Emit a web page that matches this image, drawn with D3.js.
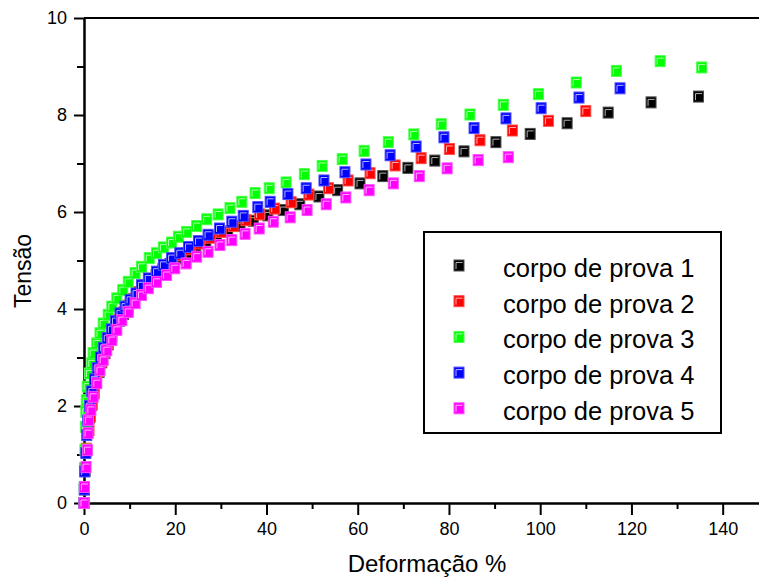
<!DOCTYPE html>
<html><head><meta charset="utf-8">
<script src="https://cdn.jsdelivr.net/npm/d3@7"></script>
<style>
html,body{margin:0;padding:0;background:#fff;}
svg{display:block;}
text{font-family:"Liberation Sans",Arial,sans-serif;fill:#000;}
</style></head>
<body>
<svg id="chart" width="759" height="578"></svg>
<script>
// ---- data ----
const categories = ["corpo de prova 1","corpo de prova 2","corpo de prova 3","corpo de prova 4","corpo de prova 5"];
const colors = ["#000000","#ff0000","#00ff00","#0000ff","#ff00ff"];

const s1x = [0,0.1,0.25,0.5,0.8,1.2,1.7,2.2,2.7,3.3,3.9,4.6,5.3,6.1,6.9,7.8,8.7,9.7,10.8,11.9,13.1,14.4,15.8,17.3,18.9,20.6,22.5,24.5,26.7,29.0,31.5,34.2,37.1,40.3,43.7,47.3,51.5,55.6,60.5,65.5,71.0,76.9,83.3,90.3,97.8,105.9,114.9,124.3,134.7];
const s1y = [0,0.28,0.66,1.08,1.47,1.76,2.02,2.26,2.48,2.70,2.90,3.09,3.27,3.44,3.60,3.76,3.90,4.05,4.19,4.32,4.45,4.58,4.70,4.82,4.93,5.04,5.15,5.27,5.38,5.49,5.60,5.71,5.82,5.93,6.04,6.16,6.32,6.45,6.59,6.74,6.91,7.06,7.25,7.44,7.61,7.83,8.05,8.26,8.38];

const s2x = [0,0.1,0.25,0.5,1.1,1.4,1.8,2.2,2.7,3.2,3.8,4.5,5.2,6.0,6.8,7.7,8.7,9.7,10.8,12.0,13.3,14.7,16.2,17.8,19.5,21.3,23.3,25.4,27.7,30.1,32.7,35.5,38.5,41.8,45.4,49.3,53.6,57.9,62.7,68.2,73.9,80.1,86.8,93.9,101.8,110.0];
const s2y = [0,0.32,0.72,1.12,1.50,1.78,2.04,2.28,2.50,2.72,2.92,3.11,3.29,3.46,3.62,3.78,3.93,4.07,4.21,4.35,4.49,4.62,4.75,4.87,4.99,5.11,5.23,5.35,5.47,5.59,5.71,5.83,5.95,6.07,6.20,6.36,6.49,6.65,6.80,6.96,7.11,7.30,7.48,7.68,7.88,8.08];

const s3x = [0,0.05,0.1,0.2,0.3,0.4,0.5,0.7,1.2,1.7,2.0,2.8,3.5,4.2,5.3,6.1,7.2,8.5,9.7,11.2,12.6,14.3,15.9,17.4,19.2,20.7,22.5,24.7,26.9,29.4,32.0,34.6,37.5,40.6,44.3,48.3,52.2,56.6,61.4,66.7,72.3,78.3,84.6,91.9,99.6,107.9,116.7,126.3,135.4];
const s3y = [0,0.33,0.72,1.1,1.57,1.88,2.12,2.40,2.67,2.88,3.09,3.29,3.50,3.70,3.88,4.05,4.22,4.39,4.56,4.74,4.87,5.05,5.15,5.27,5.37,5.49,5.59,5.71,5.85,5.95,6.08,6.21,6.39,6.49,6.61,6.78,6.95,7.09,7.26,7.44,7.60,7.81,8.01,8.21,8.43,8.67,8.91,9.11,8.98];

const s4x = [0,0.05,0.15,0.4,0.6,0.8,1.2,1.7,2.3,2.9,3.6,4.3,5.1,6.0,6.9,7.9,9.0,10.1,11.4,12.6,14.1,15.9,17.4,19.2,21.0,22.9,25.1,27.2,29.7,32.4,34.9,38.1,40.8,44.7,48.7,52.6,57.2,61.8,67.1,72.8,78.9,85.5,92.5,100.2,108.5,117.5];
const s4y = [0,0.28,0.65,1.03,1.40,1.70,2.00,2.30,2.55,2.78,3.00,3.20,3.40,3.58,3.75,3.91,4.05,4.19,4.32,4.49,4.63,4.77,4.91,5.05,5.15,5.28,5.40,5.53,5.66,5.80,5.92,6.10,6.21,6.37,6.49,6.65,6.82,6.98,7.17,7.35,7.54,7.73,7.93,8.14,8.36,8.55];

const s5x = [0,0.1,0.45,0.75,0.9,1.0,1.5,2.0,2.8,3.5,4.2,5.0,6.1,7.2,8.3,9.7,11.2,12.6,14.1,15.9,18.1,19.9,22.4,24.7,27.2,29.8,32.4,35.3,38.4,41.5,45.2,48.9,53.1,57.4,62.5,67.8,73.5,79.6,86.4,93.0];
const s5y = [0,0.33,0.74,1.09,1.44,1.71,1.92,2.19,2.47,2.74,2.95,3.15,3.36,3.57,3.77,3.94,4.12,4.29,4.43,4.56,4.70,4.84,4.94,5.08,5.18,5.32,5.42,5.55,5.66,5.80,5.89,6.04,6.16,6.30,6.45,6.59,6.74,6.90,7.07,7.13];

const xTicks = [0,20,40,60,80,100,120,140];
const xMinor = [10,30,50,70,90,110,130];
const yTicks = [0,2,4,6,8,10];
const yMinor = [1,3,5,7,9];
const xTitle = "Deformação %";
const yTitle = "Tensão";

// ---- drawing ----
const seriesX = [s1x,s2x,s3x,s4x,s5x];
const seriesY = [s1y,s2y,s3y,s4y,s5y];

const svg = d3.select("#chart");
const L = 84, T = 18, B = 503;
const x = d3.scaleLinear().domain([0,150]).range([L, L + 150*4.562]);
const y = d3.scaleLinear().domain([0,10]).range([B, T]);

function styleAxis(g){
  g.selectAll(".domain").attr("stroke","#000").attr("stroke-width",2);
  g.selectAll(".tick line").attr("stroke","#000").attr("stroke-width",2);
  g.selectAll(".tick text").style("font-size","18px").attr("fill","#000");
}

// minor ticks
svg.append("g").attr("transform",`translate(${L},0)`)
  .call(d3.axisLeft(y).tickValues(yMinor).tickSize(7).tickSizeOuter(0).tickFormat(""))
  .call(styleAxis);
svg.append("g").attr("transform",`translate(0,${B})`)
  .call(d3.axisBottom(x).tickValues(xMinor).tickSize(6).tickSizeOuter(0).tickFormat(""))
  .call(styleAxis);

// major ticks
svg.append("g").attr("transform",`translate(${L},0)`)
  .call(d3.axisLeft(y).tickValues(yTicks).tickSize(10).tickSizeOuter(0).tickPadding(7).tickFormat(d3.format("d")))
  .call(styleAxis);
svg.append("g").attr("transform",`translate(0,${B})`)
  .call(d3.axisBottom(x).tickValues(xTicks).tickSize(12).tickSizeOuter(0).tickPadding(7).tickFormat(d3.format("d")))
  .call(styleAxis);

// top frame line
svg.append("line").attr("x1",x(0)).attr("x2",x(150)).attr("y1",y(10)).attr("y2",y(10))
  .attr("stroke","#000").attr("stroke-width",2);

// axis titles
svg.append("text").attr("x",427).attr("y",572).attr("text-anchor","middle")
  .style("font-size","24px").text(xTitle);
svg.append("text").attr("transform","translate(31,271) rotate(-90)").attr("text-anchor","middle")
  .style("font-size","23px").text(yTitle);

function drawMarker(g, cx, cy, color){
  const edge = d3.interpolateRgb(color, "#ffffff")(0.3);
  const hi = d3.interpolateRgb(color, "#ffffff")(0.7);
  g.append("rect").attr("x",cx-5).attr("y",cy-5.5).attr("width",10).attr("height",11)
    .attr("fill",color).attr("stroke",edge).attr("stroke-width",1);
  g.append("path").attr("d",`M${cx-3},${cy+3.5}V${cy-3}H${cx+3.5}`)
    .attr("fill","none").attr("stroke",hi).attr("stroke-width",1);
}

// points
seriesX.forEach((xs,i)=>{
  const g = svg.append("g");
  xs.forEach((v,j)=> drawMarker(g, x(v), y(seriesY[i][j]), colors[i]));
});

// legend
const leg = svg.append("g");
leg.append("rect").attr("x",424).attr("y",232).attr("width",297).attr("height",201)
  .attr("fill","#fff").attr("stroke","#000").attr("stroke-width",2);
categories.forEach((c,i)=>{
  const cy = 265.5 + i*35.7;
  drawMarker(leg, 459, cy, colors[i]);
  leg.append("text").attr("x",503).attr("y",cy+11.5).style("font-size","25.5px").text(c);
});
</script>
</body></html>
